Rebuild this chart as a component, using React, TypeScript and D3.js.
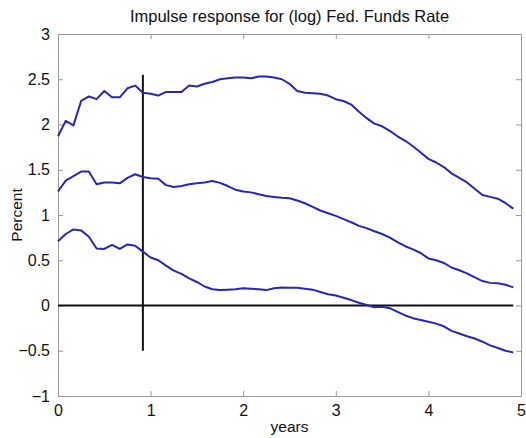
import { useEffect, useRef } from "react";
import * as d3 from "d3";

// Monthly horizon, 0..59 months
const upperBand = [
  1.87, 2.04, 1.99, 2.26, 2.31, 2.28, 2.37, 2.3, 2.3, 2.4, 2.43, 2.35, 2.34,
  2.32, 2.36, 2.36, 2.36, 2.43, 2.42, 2.45, 2.47, 2.5, 2.51, 2.52, 2.52, 2.51,
  2.53, 2.53, 2.52, 2.5, 2.45, 2.37, 2.35, 2.345, 2.34, 2.32, 2.28, 2.26, 2.22,
  2.14, 2.07, 2.01, 1.98, 1.93, 1.87, 1.82, 1.76, 1.69, 1.62, 1.58, 1.53, 1.46,
  1.41, 1.36, 1.29, 1.22, 1.2, 1.18, 1.13, 1.07,
];
const response = [
  1.26, 1.38, 1.43, 1.48, 1.48, 1.34, 1.36, 1.36, 1.35, 1.41, 1.45, 1.42, 1.405,
  1.4, 1.33, 1.31, 1.32, 1.34, 1.35, 1.36, 1.375, 1.355, 1.32, 1.28, 1.26, 1.25,
  1.23, 1.21, 1.2, 1.19, 1.185, 1.16, 1.13, 1.09, 1.05, 1.02, 0.99, 0.955, 0.92,
  0.88, 0.855, 0.82, 0.79, 0.75, 0.7, 0.655, 0.62, 0.58, 0.52, 0.5, 0.47, 0.42,
  0.39, 0.355, 0.31, 0.27, 0.25, 0.245, 0.23, 0.2,
];
const lowerBand = [
  0.71, 0.79, 0.84, 0.83, 0.76, 0.63, 0.625, 0.67, 0.625, 0.675, 0.66, 0.595,
  0.53, 0.5, 0.44, 0.385, 0.35, 0.3, 0.26, 0.21, 0.18, 0.17, 0.175, 0.18, 0.19,
  0.185, 0.18, 0.17, 0.19, 0.2, 0.197, 0.195, 0.185, 0.175, 0.15, 0.125, 0.11,
  0.086, 0.06, 0.03, 0.005, -0.02, -0.015, -0.03, -0.07, -0.11, -0.14, -0.16,
  -0.18, -0.2, -0.23, -0.28, -0.31, -0.34, -0.365, -0.4, -0.44, -0.47, -0.5,
  -0.52,
];

const xTicks = [0, 1, 2, 3, 4, 5];
const yTicks = [-1, -0.5, 0, 0.5, 1, 1.5, 2, 2.5, 3];

// marker line at 11 months
const markerYear = 11 / 12;
const markerRange = [-0.5, 2.55];

const width = 526;
const height = 438;
const marginTop = 34;
const marginRight = 5;
const marginBottom = 42;
const marginLeft = 58;

const lineColor = "#2626b8";
const boxColor = "#9a9a9a";
const font = "Arial, 'Liberation Sans', sans-serif";

export default function App() {
  const ref = useRef<SVGSVGElement>(null);

  useEffect(() => {
    if (!ref.current) return;
    const svg = d3.select(ref.current);
    svg.selectAll("*").remove();

    const x = d3
      .scaleLinear()
      .domain([0, 5])
      .range([marginLeft, width - marginRight]);
    const y = d3
      .scaleLinear()
      .domain([-1, 3])
      .range([height - marginBottom, marginTop]);

    svg
      .append("rect")
      .attr("width", width)
      .attr("height", height)
      .attr("fill", "white");

    // Box with inward ticks on all four sides (matlab style)
    const styleAxis = (g) => {
      g.select(".domain").attr("stroke", boxColor);
      g.selectAll(".tick line").attr("stroke", boxColor);
      g.selectAll(".tick text")
        .attr("fill", "#111")
        .attr("font-size", 16)
        .attr("font-family", font);
    };

    const fmt = d3.format("~g");

    svg
      .append("g")
      .attr("transform", `translate(0,${height - marginBottom})`)
      .call(d3.axisBottom(x).tickValues(xTicks).tickSize(-5).tickSizeOuter(0).tickPadding(9).tickFormat(fmt))
      .call(styleAxis);
    svg
      .append("g")
      .attr("transform", `translate(0,${marginTop})`)
      .call(d3.axisTop(x).tickValues(xTicks).tickSize(-5).tickSizeOuter(0).tickFormat(() => ""))
      .call(styleAxis);
    svg
      .append("g")
      .attr("transform", `translate(${marginLeft},0)`)
      .call(d3.axisLeft(y).tickValues(yTicks).tickSize(-5).tickSizeOuter(0).tickPadding(8).tickFormat(fmt))
      .call(styleAxis);
    svg
      .append("g")
      .attr("transform", `translate(${width - marginRight},0)`)
      .call(d3.axisRight(y).tickValues(yTicks).tickSize(-5).tickSizeOuter(0).tickFormat(() => ""))
      .call(styleAxis);

    // Reference lines
    const lastYear = (response.length - 1) / 12;
    svg
      .append("line")
      .attr("x1", x(0))
      .attr("x2", x(lastYear))
      .attr("y1", y(0))
      .attr("y2", y(0))
      .attr("stroke", "#111")
      .attr("stroke-width", 2);
    svg
      .append("line")
      .attr("x1", x(markerYear))
      .attr("x2", x(markerYear))
      .attr("y1", y(markerRange[0]))
      .attr("y2", y(markerRange[1]))
      .attr("stroke", "#111")
      .attr("stroke-width", 2);

    // Response and bands
    const line = d3
      .line<number>()
      .x((_, i) => x(i / 12))
      .y((d) => y(d));

    [upperBand, response, lowerBand].forEach((series) => {
      svg
        .append("path")
        .attr("fill", "none")
        .attr("stroke", lineColor)
        .attr("stroke-width", 2)
        .attr("stroke-linejoin", "round")
        .attr("d", line(series));
    });

    // Labels
    const cx = (marginLeft + width - marginRight) / 2;
    svg
      .append("text")
      .attr("x", cx)
      .attr("y", 22)
      .attr("text-anchor", "middle")
      .attr("font-size", 16.5)
      .attr("font-family", font)
      .attr("fill", "#111")
      .text("Impulse response for (log) Fed. Funds Rate");
    svg
      .append("text")
      .attr("x", cx)
      .attr("y", 432)
      .attr("text-anchor", "middle")
      .attr("font-size", 15.5)
      .attr("font-family", font)
      .attr("fill", "#111")
      .text("years");
    svg
      .append("text")
      .attr("transform", `translate(22,${(marginTop + height - marginBottom) / 2}) rotate(-90)`)
      .attr("text-anchor", "middle")
      .attr("font-size", 15.5)
      .attr("font-family", font)
      .attr("fill", "#111")
      .text("Percent");
  }, []);

  return (
    <svg
      ref={ref}
      width={width}
      height={height}
      style={{ position: "absolute", left: 0, top: 0 }}
    />
  );
}
